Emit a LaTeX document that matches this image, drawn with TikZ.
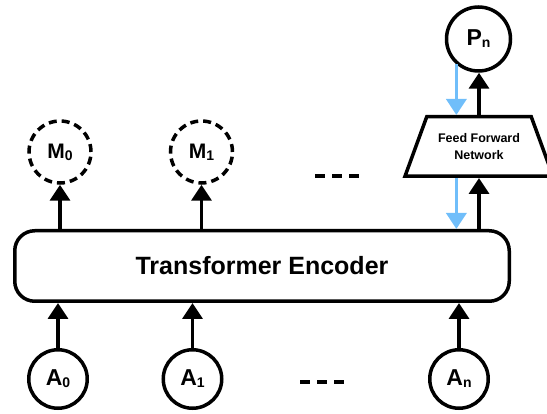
\documentclass[tikz,border=0pt]{standalone}
\usepackage{fontspec}
\setmainfont{Liberation Sans}
\usetikzlibrary{arrows.meta}
\definecolor{skyblue}{RGB}{112,190,250}
% small index that sits a little below the baseline
\newcommand{\lowidx}[1]{\raisebox{-2pt}{\fontsize{14}{14}\selectfont #1}}
\begin{document}
\begin{tikzpicture}[x=1pt,y=-1pt,line width=3.5pt,
  tok/.style={circle,draw,minimum size=58.5pt,inner sep=0pt,
    font=\bfseries\fontsize{23}{23}\selectfont},
  memtok/.style={tok,minimum size=62pt,dash pattern=on 8pt off 5pt,
    font=\bfseries\fontsize{21}{21}\selectfont},
  outtok/.style={tok,minimum size=64pt},
  arr/.style={-{Triangle[length=16pt,width=20pt]}},
  barr/.style={arr,draw=skyblue},
  gap/.style={line width=4.5pt,dash pattern=on 10pt off 7pt}
]
\useasboundingbox (0,0) rectangle (547,414);
\clip (0,0) rectangle (547,414);

% encoder block
\node[draw,rounded corners=20pt,minimum width=494.5pt,minimum height=70.5pt,
  inner sep=0pt,font=\bfseries\fontsize{25}{25}\selectfont] (enc) at (262,266)
  {Transformer Encoder};

% input tokens
\node[tok] (a0) at (58,379) {A\lowidx{0}};
\node[tok] (a1) at (192.5,379) {A\lowidx{1}};
\node[tok] (an) at (459,379) {A\lowidx{n}};

% masked outputs
\node[memtok] (m0) at (60,152) {M\lowidx{0}};
\node[memtok] (m1) at (201.5,152) {M\lowidx{1}};

% prediction head: trapezoid outline with its label node on top
\draw[line join=miter] (426.75,116.75) -- (531.25,116.75) -- (553,176.25)
  -- (405,176.25) -- cycle;
\node[minimum width=104.5pt,minimum height=59.5pt,inner sep=0pt,align=center,
  font=\bfseries\fontsize{12.5}{17}\selectfont] (ffn) at (479,146.5)
  {Feed Forward\\Network};
\node[outtok] (pn) at (478.5,39) {P\lowidx{n}};

% ellipses
\draw[gap] (300,382) -- (344,382);
\draw[gap] (315,176) -- (359,176);

% connectors
\draw[arr] (a0.north) -- (a0.north |- enc.south);
\draw[arr] (a1.north) -- (a1.north |- enc.south);
\draw[arr] (an.north) -- (an.north |- enc.south);
\draw[arr] (m0.south |- enc.north) -- (m0.south);
\draw[arr] (m1.south |- enc.north) -- (m1.south);
\draw[arr] (ffn.south |- enc.north) -- (ffn.south);
\draw[arr] (ffn.north) -- (ffn.north |- pn.south);
\draw[barr] (pn.229) -- (pn.229 |- ffn.north);
\draw[barr] (pn.229 |- ffn.south) -- (pn.229 |- enc.north);
\end{tikzpicture}
\end{document}
